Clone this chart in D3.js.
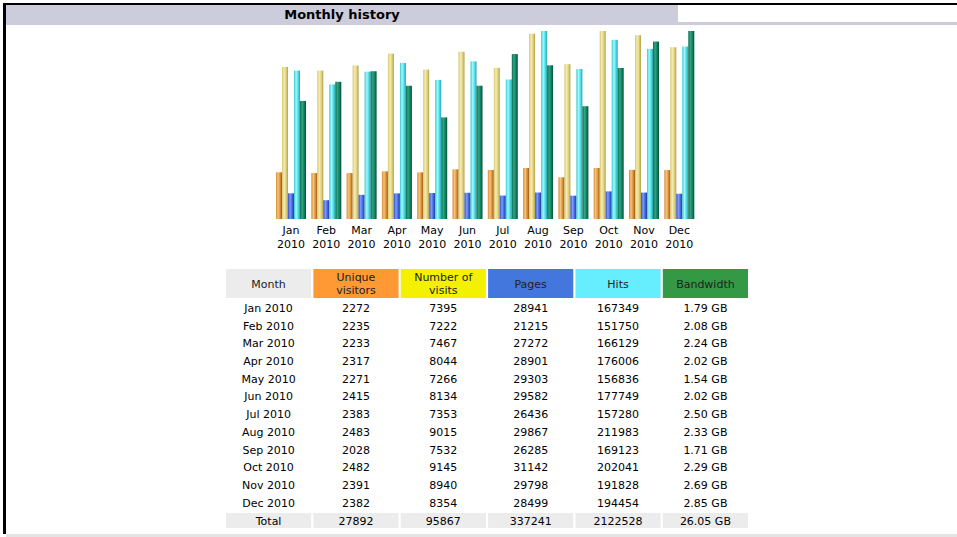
<!DOCTYPE html>
<html>
<head>
<meta charset="utf-8">
<script src="https://cdn.jsdelivr.net/npm/d3@7"></script>
<style>
body { margin: 0; background: #fff; }
svg { display: block; font-family: "DejaVu Sans", Verdana, sans-serif; }
</style>
</head>
<body>
<svg></svg>
<script>
const months = ["Jan", "Feb", "Mar", "Apr", "May", "Jun", "Jul", "Aug", "Sep", "Oct", "Nov", "Dec"];
const year = "2010";
const visitors = [2272, 2235, 2233, 2317, 2271, 2415, 2383, 2483, 2028, 2482, 2391, 2382];
const visits = [7395, 7222, 7467, 8044, 7266, 8134, 7353, 9015, 7532, 9145, 8940, 8354];
const pages = [28941, 21215, 27272, 28901, 29303, 29582, 26436, 29867, 26285, 31142, 29798, 28499];
const hits = [167349, 151750, 166129, 176006, 156836, 177749, 157280, 211983, 169123, 202041, 191828, 194454];
const bandwidth = [1.79, 2.08, 2.24, 2.02, 1.54, 2.02, 2.50, 2.33, 1.71, 2.29, 2.69, 2.85];
const headers = ["Month", "Unique\nvisitors", "Number of\nvisits", "Pages", "Hits", "Bandwidth"];
const totals = ["Total", "27892", "95867", "337241", "2122528", "26.05 GB"];

const width = 957, height = 537;
const svg = d3.select("svg").attr("width", width).attr("height", height);

// cadre
svg.append("rect").attr("x", 3).attr("y", 3).attr("width", width - 3).attr("height", 2).attr("fill", "#000");
svg.append("rect").attr("x", 3).attr("y", 3).attr("width", 3).attr("height", 531).attr("fill", "#000");
svg.append("rect").attr("x", 6).attr("y", 5).attr("width", 672).attr("height", 20).attr("fill", "#ccccdd");
svg.append("rect").attr("x", 678).attr("y", 22).attr("width", width - 678).attr("height", 3).attr("fill", "#ccccdd");
svg.append("rect").attr("x", 6).attr("y", 534).attr("width", width - 6).attr("height", 3).attr("fill", "#e4e4e4");
svg.append("text").attr("x", 342).attr("y", 19).attr("text-anchor", "middle")
    .attr("font-size", 13).attr("font-weight", "bold").attr("fill", "#000").text("Monthly history");

// dégradés des barres
const series = [
    { key: "visitors", values: visitors, max: d3.max(visits), stops: ["#d88c3c", "#f6c47a", "#e0963e", "#9c5810"] },
    { key: "visits", values: visits, max: d3.max(visits), stops: ["#d6c670", "#f4ecb0", "#e2d484", "#b0a048"] },
    { key: "pages", values: pages, max: d3.max(hits), stops: ["#3050c8", "#7c9cff", "#4a6ce0", "#1c3aa0"] },
    { key: "hits", values: hits, max: d3.max(hits), stops: ["#3cc4cc", "#9cfaff", "#56e2ea", "#2aa4ac"] },
    { key: "bandwidth", values: bandwidth, max: d3.max(bandwidth), stops: ["#0c6c50", "#34a484", "#128464", "#005438"] }
];
const defs = svg.append("defs");
series.forEach(s => {
    const g = defs.append("linearGradient").attr("id", "g-" + s.key).attr("x1", 0).attr("x2", 1).attr("y1", 0).attr("y2", 0);
    [0, 0.35, 0.65, 1].forEach((o, i) => g.append("stop").attr("offset", o).attr("stop-color", s.stops[i]));
});

const baseY = 219, topY = 31;
const x = d3.scaleBand().domain(months).range([276, 694.3]).paddingInner(0.15).paddingOuter(0);
const xs = d3.scaleBand().domain(series.map(s => s.key)).range([0, x.bandwidth()]);

const groups = svg.selectAll(".month").data(months).enter().append("g")
    .attr("class", "month").attr("transform", d => `translate(${x(d)},0)`);

series.forEach(s => {
    const y = d3.scaleLinear().domain([0, s.max]).range([baseY, topY]);
    groups.append("rect")
        .attr("x", xs(s.key))
        .attr("width", xs.bandwidth())
        .attr("y", (d, i) => y(s.values[i]))
        .attr("height", (d, i) => baseY - y(s.values[i]))
        .attr("fill", `url(#g-${s.key})`);
});

groups.append("text").attr("x", x.bandwidth() / 2).attr("y", 234).attr("text-anchor", "middle")
    .attr("font-size", 11).attr("fill", "#000").text(d => d);
groups.append("text").attr("x", x.bandwidth() / 2).attr("y", 248).attr("text-anchor", "middle")
    .attr("font-size", 11).attr("fill", "#000").text(year);

// tableau
const colFill = ["#ececec", "#ff9933", "#f3f000", "#4477dd", "#66eeff", "#339944"];
const col = d3.scaleBand().domain(d3.range(6)).range([226, 748]).paddingInner(0.025);
const cx = i => col(i) + col.bandwidth() / 2;

const head = svg.append("g");
headers.forEach((h, i) => {
    head.append("rect").attr("x", col(i)).attr("y", 269).attr("width", col.bandwidth()).attr("height", 29).attr("fill", colFill[i]);
    const lines = h.split("\n");
    const t = head.append("text").attr("text-anchor", "middle").attr("font-size", 11).attr("fill", "#222");
    lines.forEach((l, k) => {
        t.append("tspan").attr("x", cx(i))
            .attr("y", lines.length === 1 ? 288 : 281 + k * 13).text(l);
    });
});

const fmtGB = v => v.toFixed(2) + " GB";
const rows = months.map((m, i) => [m + " " + year, visitors[i], visits[i], pages[i], hits[i], fmtGB(bandwidth[i])]);
const rowY = d3.scalePoint().domain(d3.range(rows.length)).range([308, 503]);

rows.forEach((r, ri) => {
    r.forEach((v, ci) => {
        svg.append("text").attr("x", cx(ci)).attr("y", rowY(ri)).attr("dy", "0.35em")
            .attr("text-anchor", "middle").attr("font-size", 11).attr("fill", "#000").text(v);
    });
});

totals.forEach((v, ci) => {
    svg.append("rect").attr("x", col(ci)).attr("y", 513).attr("width", col.bandwidth()).attr("height", 15).attr("fill", "#ececec");
    svg.append("text").attr("x", cx(ci)).attr("y", 521).attr("dy", "0.35em")
        .attr("text-anchor", "middle").attr("font-size", 11).attr("fill", "#000").text(v);
});
</script>
</body>
</html>
